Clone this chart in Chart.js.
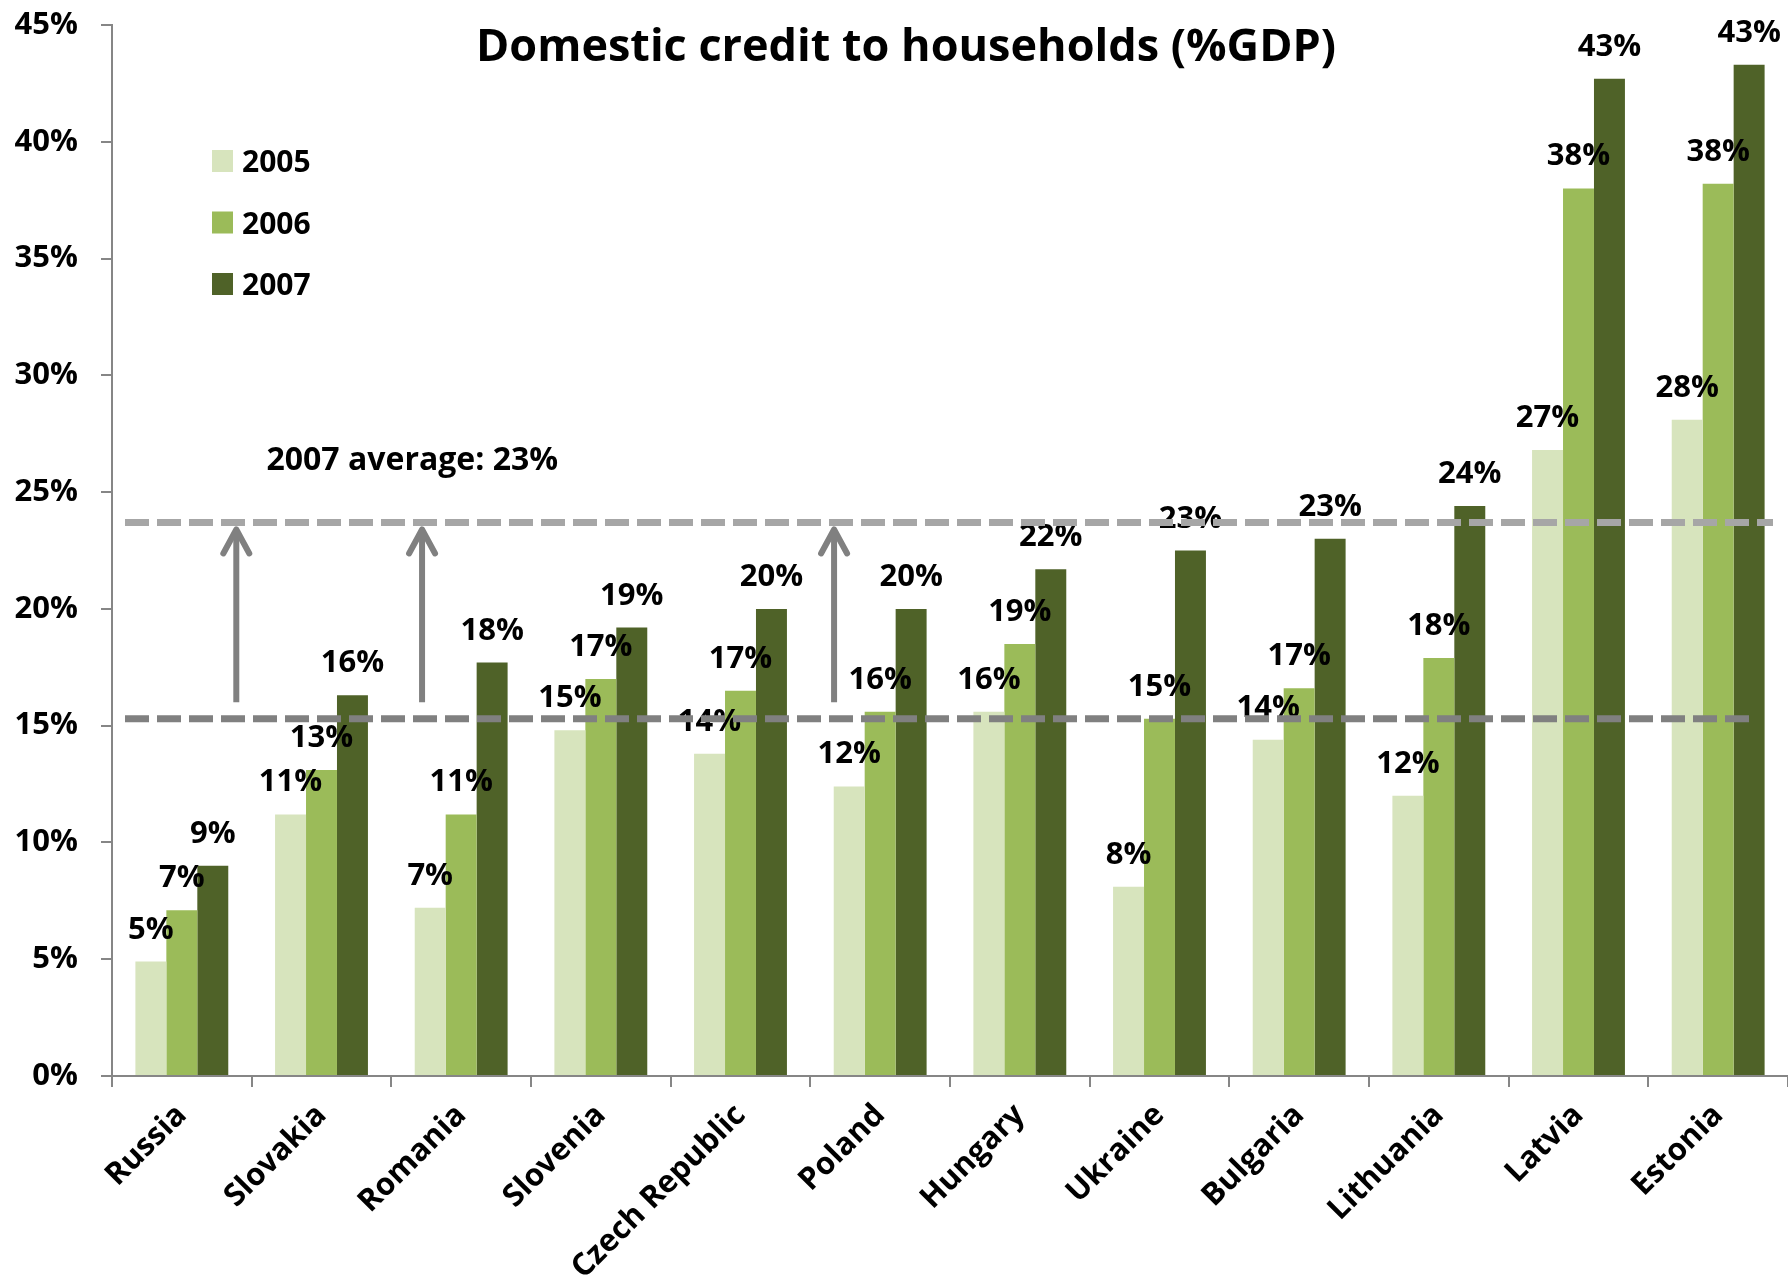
<!DOCTYPE html>
<html>
<head>
<meta charset="utf-8">
<title>Domestic credit to households (%GDP)</title>
<script src="https://cdn.jsdelivr.net/npm/chart.js@4/dist/chart.umd.min.js"></script>
<style>
  html, body { margin: 0; padding: 0; background: #ffffff; }
  canvas { display: block; }
</style>
</head>
<body>
<canvas id="chart" width="1788" height="1285"></canvas>
<script>
// Household credit, % of GDP, by country and year
const countries = ['Russia', 'Slovakia', 'Romania', 'Slovenia', 'Czech Republic', 'Poland',
                   'Hungary', 'Ukraine', 'Bulgaria', 'Lithuania', 'Latvia', 'Estonia'];
const years = ['2005', '2006', '2007'];
const credit2005 = [4.9, 11.2, 7.2, 14.8, 13.8, 12.4, 15.6, 8.1, 14.4, 12.0, 26.8, 28.1];
const credit2006 = [7.1, 13.1, 11.2, 17.0, 16.5, 15.6, 18.5, 15.3, 16.6, 17.9, 38.0, 38.2];
const credit2007 = [9.0, 16.3, 17.7, 19.2, 20.0, 20.0, 21.7, 22.5, 23.0, 24.4, 42.7, 43.3];
const yTickValues = [0, 5, 10, 15, 20, 25, 30, 35, 40, 45];

// Reference levels and the annotation drawn between them
const upperLevel = 23.7;
const lowerLevel = 15.3;
const averageText = '2007 average: 23%';
const arrowSlots = [0.39, 1.72, 4.67];   // positions on the category axis
const arrowFrom = 16.0;
const arrowTo = 23.4;
const titleText = 'Domestic credit to households (%GDP)';

const colors = ['#D7E4BD', '#9BBB59', '#4F6228'];
const axisGray = '#868686';
const FONT = '"Open Sans", "DejaVu Sans", sans-serif';

const seriesValues = [credit2005, credit2006, credit2007];

const overlay = {
  id: 'overlay',
  afterDatasetsDraw(chart) {
    const { ctx, chartArea: a, scales: { x, y } } = chart;
    ctx.save();

    // value labels above each bar
    ctx.font = 'bold 31px ' + FONT;
    ctx.fillStyle = '#000000';
    ctx.textAlign = 'center';
    ctx.textBaseline = 'alphabetic';
    chart.data.datasets.forEach((ds, di) => {
      chart.getDatasetMeta(di).data.forEach((bar, i) => {
        ctx.fillText(Math.round(ds.data[i]) + '%', bar.x, bar.y - 23);
      });
    });

    // dashed reference lines
    ctx.lineWidth = 7;
    ctx.setLineDash([24, 8]);
    ctx.lineCap = 'butt';
    const yUp = y.getPixelForValue(upperLevel);
    ctx.strokeStyle = '#A6A6A6';
    ctx.beginPath();
    ctx.moveTo(a.left + 13, yUp);
    ctx.lineTo(a.right - 15, yUp);
    ctx.stroke();
    const yLow = y.getPixelForValue(lowerLevel);
    ctx.strokeStyle = '#808080';
    ctx.beginPath();
    ctx.moveTo(a.left + 13, yLow);
    ctx.lineTo(a.right - 39, yLow);
    ctx.stroke();
    ctx.setLineDash([]);

    // upward arrows
    ctx.strokeStyle = '#808080';
    ctx.lineWidth = 6;
    const yA = y.getPixelForValue(arrowFrom);
    const yB = y.getPixelForValue(arrowTo);
    arrowSlots.forEach(slot => {
      const px = x.getPixelForValue(slot);
      ctx.lineCap = 'butt';
      ctx.beginPath();
      ctx.moveTo(px, yA);
      ctx.lineTo(px, yB + 2);
      ctx.stroke();
      ctx.lineCap = 'round';
      ctx.lineJoin = 'round';
      ctx.beginPath();
      ctx.moveTo(px - 13, yB + 24);
      ctx.lineTo(px, yB);
      ctx.lineTo(px + 13, yB + 24);
      ctx.stroke();
    });

    // annotation text
    ctx.font = 'bold 32px ' + FONT;
    ctx.fillStyle = '#000000';
    ctx.textAlign = 'center';
    ctx.fillText(averageText, x.getPixelForValue(1.65), y.getPixelForValue(26.4) + 11);

    // title
    ctx.font = 'bold 45px ' + FONT;
    ctx.fillText(titleText, 906, 61);

    // legend
    ctx.font = 'bold 30px ' + FONT;
    ctx.textAlign = 'left';
    years.forEach((yr, i) => {
      const cy = 161 + i * 61.5;
      ctx.fillStyle = colors[i];
      ctx.fillRect(212, cy - 11, 21, 22);
      ctx.fillStyle = '#000000';
      ctx.fillText(yr, 242, cy + 11);
    });

    ctx.restore();
  }
};

new Chart(document.getElementById('chart'), {
  type: 'bar',
  data: {
    labels: countries,
    datasets: years.map((yr, i) => ({
      label: yr,
      data: seriesValues[i],
      backgroundColor: colors[i],
      borderWidth: 0,
      categoryPercentage: 0.665,
      barPercentage: 1.0
    }))
  },
  options: {
    responsive: false,
    animation: false,
    events: [],
    layout: { padding: { top: 25, left: 0, right: 0, bottom: 0 } },
    plugins: {
      legend: { display: false },
      tooltip: { enabled: false },
      title: { display: false }
    },
    scales: {
      x: {
        grid: {
          offset: true,
          drawOnChartArea: false,
          drawTicks: true,
          tickLength: 11,
          color: axisGray,
          lineWidth: 2
        },
        border: { display: true, color: axisGray, width: 2 },
        ticks: {
          autoSkip: false,
          maxRotation: 45,
          minRotation: 45,
          padding: 10,
          color: '#000000',
          font: { family: FONT, size: 31, weight: 'bold' }
        },
        afterFit(scale) { scale.height = 209; }
      },
      y: {
        min: 0,
        max: 45,
        grid: {
          drawOnChartArea: false,
          drawTicks: true,
          tickLength: 11,
          color: axisGray,
          lineWidth: 2
        },
        border: { display: true, color: axisGray, width: 2 },
        afterBuildTicks(scale) {
          scale.ticks = yTickValues.map(v => ({ value: v }));
        },
        ticks: {
          padding: 23,
          color: '#000000',
          font: { family: FONT, size: 31, weight: 'bold' },
          callback: v => v + '%'
        },
        afterFit(scale) {
          scale.width = 112;
          scale.paddingTop = 0;
          scale.paddingBottom = 0;
        }
      }
    }
  },
  plugins: [overlay]
});
</script>
</body>
</html>
